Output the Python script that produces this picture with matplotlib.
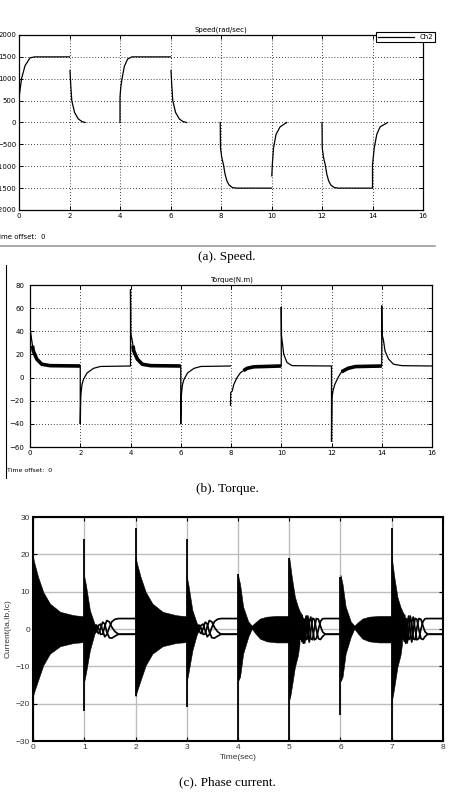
import numpy as np
import matplotlib
matplotlib.use("Agg")
import matplotlib.pyplot as plt
from matplotlib.lines import Line2D

nan = np.nan

# ---------------- data: (a) speed ----------------
speed_t = [0.0, 0.0, 0.02, 0.1, 0.24, 0.44, 0.63, 2.0, nan,
           2.02, 2.05, 2.09, 2.2, 2.35, 2.5, 2.62, nan,
           4.0, 4.0, 4.03, 4.08, 4.17, 4.3, 4.47, 6.0, nan,
           6.02, 6.05, 6.09, 6.2, 6.35, 6.5, 6.64, nan,
           7.97, 7.98, 8.03, 8.1, 8.16, 8.23, 8.32, 8.45, 8.6, 10.0, nan,
           10.01, 10.04, 10.08, 10.18, 10.34, 10.6, nan,
           12.0, 12.01, 12.06, 12.13, 12.19, 12.26, 12.35, 12.48, 12.63, 14.0,
           14.0, 14.07, 14.17, 14.3, 14.6]
speed_v = [300, 500, 650, 1000, 1300, 1480, 1500, 1500, nan,
           1190, 850, 500, 230, 80, 20, 0, nan,
           0, 580, 800, 1000, 1280, 1450, 1500, 1500, nan,
           1190, 850, 500, 230, 80, 20, 0, nan,
           0, -580, -800, -970, -1180, -1330, -1430, -1485, -1500, -1500, nan,
           -1220, -900, -580, -270, -100, 0, nan,
           0, -580, -800, -970, -1180, -1330, -1430, -1485, -1500, -1500,
           -970, -580, -270, -100, 0]
speed_xticks = list(range(0, 17, 2))
speed_yticks = list(range(-2000, 2001, 500))

# ---------------- data: (b) torque ----------------
torque_t = [0.0, 0.07, 0.13, 0.27, 0.47, 0.8, 2.0,
            2.0, 2.02, 2.04, 2.07, 2.13, 2.27, 2.53, 2.8, 4.0,
            4.0, 4.01, 4.07, 4.13, 4.27, 4.47, 4.8, 6.0,
            6.0, 6.02, 6.04, 6.07, 6.13, 6.27, 6.53, 6.8, 7.98, nan,
            7.98, 7.99, 8.05, 8.11, 8.24, 8.38, 8.64, 8.91, 10.0,
            10.0, 10.01, 10.05, 10.1, 10.23, 10.43, 12.0,
            12.0, 12.02, 12.06, 12.13, 12.26, 12.4, 12.66, 12.95, 14.0,
            14.0, 14.01, 14.07, 14.13, 14.27, 14.47, 14.8, 16.0]
torque_v = [43, 32, 23, 16, 11.5, 10.3, 10,
            -40, -17, -11.5, -6, -1.5, 4, 8, 9.6, 10,
            76, 38, 32, 23, 16, 11.5, 10.3, 10,
            -40, -17, -11.5, -6, -1.5, 4, 8, 9.6, 10, nan,
            -24, -13, -11.5, -6, 0, 4.3, 8, 9.3, 10,
            61, 36, 29, 20, 13, 10.3, 10,
            -55, -17, -11.5, -6, 0, 5, 8, 9.5, 10,
            62, 37.5, 32, 23, 16, 11.5, 10.3, 10]
torque_noise_t = [0.1, 0.13, 0.27, 0.47, 0.8, 2.0, nan,
                  4.1, 4.13, 4.27, 4.47, 4.8, 6.0, nan,
                  8.5, 8.64, 8.91, 10.0, nan,
                  12.4, 12.66, 12.95, 14.0]
torque_noise_v = [27.5, 23, 16, 11.5, 10.3, 10, nan,
                  27.5, 23, 16, 11.5, 10.3, 10, nan,
                  6.0, 8, 9.3, 10, nan,
                  5, 8, 9.5, 10]
torque_xticks = list(range(0, 17, 2))
torque_yticks = list(range(-60, 81, 20))

# ---------------- data: (c) phase current ----------------
accel_fwd_dt = [0.0, 0.02, 0.1, 0.2, 0.33, 0.53, 0.79, 1.0]
accel_fwd_up = [19.3, 18.0, 13.9, 9.9, 6.8, 4.6, 3.7, 3.4]
accel_fwd_lo = [-18.0, -17.0, -13.7, -9.7, -6.6, -4.6, -3.75, -3.5]

decel_fwd_dt = [0.0, 0.03, 0.11, 0.2, 0.24]
decel_fwd_up = [14.0, 12.0, 5.0, 1.4, 1.0]
decel_fwd_lo = [-14.0, -12.0, -5.7, -1.25, -0.5]
decel_fwd_line_dt = [0.24, 0.28, 0.32, 0.36, 0.40, 0.44, 0.49, 0.54, 0.60, 0.67, 1.0]
decel_fwd_ia = [1.0, 0.23, -1.45, -1.34, 0.72, 2.27, 1.92, 0.45, -0.70, -1.4, -1.4]
decel_fwd_ib = [-0.5, 1.0, 1.31, -0.49, -2.07, -1.48, 0.44, 1.99, 2.61, 2.8, 2.8]
decel_fwd_ic = [-0.5, -1.22, 0.14, 1.84, 1.35, -0.79, -2.35, -2.44, -1.91, -1.4, -1.4]

accel_rev_dt = [0.0, 0.04, 0.10, 0.20, 0.27, 0.34, 0.43, 0.56, 0.75, 1.0]
accel_rev_up = [14.5, 12.0, 6.0, 2.0, 0.9, 1.8, 2.8, 3.3, 3.5, 3.5]
accel_rev_lo = [-14.0, -12.8, -6.6, -2.1, 0.1, -1.2, -2.6, -3.3, -3.6, -3.6]

decel_rev_dt = [0.0, 0.02, 0.05, 0.11, 0.17, 0.20]
decel_rev_up = [19.0, 17.0, 13.9, 8.6, 5.9, 5.0]
decel_rev_lo = [-19.0, -18.0, -15.5, -10.2, -7.0, -4.0]
decel_rev_line_dt = [0.20, 0.225, 0.25, 0.275, 0.30, 0.33, 0.36, 0.39, 0.42,
                     0.455, 0.49, 0.53, 0.57, 0.61, 0.65, 0.70, 1.0]
decel_rev_ia = [4.5, -1.47, -3.36, 2.79, 2.44, -2.83, -2.55, 2.01, 3.20,
                0.0, -2.90, -2.54, 0.0, 2.05, 2.75, 2.8, 2.8]
decel_rev_ib = [-2.25, 4.24, -0.36, -3.82, 1.30, 3.48, -0.93, -3.49, -0.59,
                2.86, 2.62, -0.27, -2.60, -2.80, -2.01, -1.4, -1.4]
decel_rev_ic = [-2.25, -2.76, 3.71, 1.02, -3.74, -0.64, 3.48, 1.48, -2.60,
                -2.86, 0.28, 2.81, 2.60, 0.75, -0.74, -1.4, -1.4]

current_event_t = [0, 1, 2, 3, 4, 5, 6, 7]
current_event_kind = ["accel_fwd", "decel_fwd", "accel_fwd", "decel_fwd",
                      "accel_rev", "decel_rev", "accel_rev", "decel_rev"]
current_spike_hi = [30, 24, 27, 24, 14.6, 19, 13.9, 27]
current_spike_lo = [-18, -22, -18, -21, -30, -30, -23, -30]
current_xticks = list(range(0, 9))
current_yticks = list(range(-30, 31, 10))

# ---------------- figure ----------------
W, H = 451, 793
fig = plt.figure(figsize=(W / 100, H / 100), dpi=100)
fig.patch.set_facecolor("white")


def rect(l, t, r, b):
    return [l / W, 1 - b / H, (r - l) / W, (b - t) / H]


def fx(x):
    return x / W


def fy(y):
    return 1 - y / H


small = dict(family="DejaVu Sans")
dotted = (0, (1, 2.5))

# ---- (a) speed ----
ax1 = fig.add_axes(rect(19, 35, 423, 210))
(sp_line,) = ax1.plot(speed_t, speed_v, color="k", lw=0.9)
ax1.set_xlim(0, 16)
ax1.set_ylim(-2000, 2000)
ax1.set_xticks(speed_xticks)
ax1.set_yticks(speed_yticks)
ax1.grid(True, color="k", linestyle=dotted, lw=0.6)
ax1.tick_params(direction="in", length=3, width=0.7, labelsize=5, pad=2,
                right=True, top=True)
for s in ax1.spines.values():
    s.set_linewidth(0.9)
ax1.set_title("Speed(rad/sec)", fontsize=5, pad=2.5, **small)
leg = ax1.legend(handles=[sp_line], labels=["Ch2"], loc="center",
                 bbox_to_anchor=(fx(405.5), fy(37)), bbox_transform=fig.transFigure,
                 frameon=True, fancybox=False, edgecolor="black", framealpha=1,
                 prop=dict(size=5, family="DejaVu Sans"), handlelength=5.2,
                 borderpad=0.25, handletextpad=0.8, borderaxespad=0)
leg.get_frame().set_linewidth(0.8)
fig.text(fx(-5), fy(237), "Time offset:  0", fontsize=5, va="center", **small)
fig.add_artist(Line2D([0, fx(435)], [fy(246), fy(246)], color="#9a9a9a", lw=1.2))
fig.text(fx(227), fy(257), "(a). Speed.", family="Liberation Serif",
         fontsize=9.5, ha="center", va="center")

# ---- (b) torque ----
ax2 = fig.add_axes(rect(30, 285, 432, 447))
ax2.plot(torque_t, torque_v, color="k", lw=0.9)
ax2.plot(torque_noise_t, torque_noise_v, color="k", lw=2.6, solid_capstyle="butt")
ax2.set_xlim(0, 16)
ax2.set_ylim(-60, 80)
ax2.set_xticks(torque_xticks)
ax2.set_yticks(torque_yticks)
ax2.grid(True, color="k", linestyle=dotted, lw=0.6)
ax2.tick_params(direction="in", length=3, width=0.7, labelsize=5, pad=4,
                right=True, top=True)
ax2.tick_params(axis="x", pad=2)
for s in ax2.spines.values():
    s.set_linewidth(0.9)
ax2.set_title("Torque(N.m)", fontsize=5, pad=2.5, **small)
fig.add_artist(Line2D([fx(6), fx(6)], [fy(265), fy(478)], color="k", lw=0.8))
fig.text(fx(7), fy(471), "Time offset:  0", fontsize=4.5, va="center", **small)
fig.text(fx(227), fy(489), "(b). Torque.", family="Liberation Serif",
         fontsize=9.5, ha="center", va="center")

# ---- (c) phase current ----
ax3 = fig.add_axes(rect(33, 517, 443, 741))
bands = {
    "accel_fwd": (accel_fwd_dt, accel_fwd_up, accel_fwd_lo),
    "decel_fwd": (decel_fwd_dt, decel_fwd_up, decel_fwd_lo),
    "accel_rev": (accel_rev_dt, accel_rev_up, accel_rev_lo),
    "decel_rev": (decel_rev_dt, decel_rev_up, decel_rev_lo),
}
phase_lines = {
    "decel_fwd": (decel_fwd_line_dt, decel_fwd_ia, decel_fwd_ib, decel_fwd_ic),
    "decel_rev": (decel_rev_line_dt, decel_rev_ia, decel_rev_ib, decel_rev_ic),
}
for t0, kind, hi, lo in zip(current_event_t, current_event_kind,
                            current_spike_hi, current_spike_lo):
    dts, up, low = bands[kind]
    tt = t0 + np.array(dts)
    ax3.fill_between(tt, up, low, facecolor="k", edgecolor="k", lw=0.4, zorder=3)
    ax3.vlines(t0, lo, hi, color="k", lw=1.3, zorder=3)
    if kind in phase_lines:
        ldt, ia, ib, ic = phase_lines[kind]
        lt = t0 + np.array(ldt)
        for ph in (ia, ib, ic):
            ax3.plot(lt, ph, color="k", lw=1.25, zorder=3)
ax3.set_xlim(0, 8)
ax3.set_ylim(-30, 30)
ax3.set_xticks(current_xticks)
ax3.set_yticks(current_yticks)
ax3.grid(True, color="#bdbdbd", linestyle="-", lw=1.0, zorder=0)
ax3.set_axisbelow(True)
ax3.tick_params(direction="in", length=3, width=0.8, labelsize=6, pad=2,
                right=True, top=True, labelcolor="#333333")
for lab in ax3.get_xticklabels() + ax3.get_yticklabels():
    lab.set_family("Liberation Sans")
for s in ax3.spines.values():
    s.set_linewidth(1.5)
ax3.set_xlabel("Time(sec)", fontsize=6, family="Liberation Sans",
               color="#333333", labelpad=2)
ax3.set_ylabel("Current(Ia,Ib,Ic)", fontsize=6, family="Liberation Sans",
               color="#333333", labelpad=3)
fig.text(fx(227), fy(782), "(c). Phase current.", family="Liberation Serif",
         fontsize=9.5, ha="center", va="center")

fig.savefig("out.png", dpi=100, facecolor="white")
